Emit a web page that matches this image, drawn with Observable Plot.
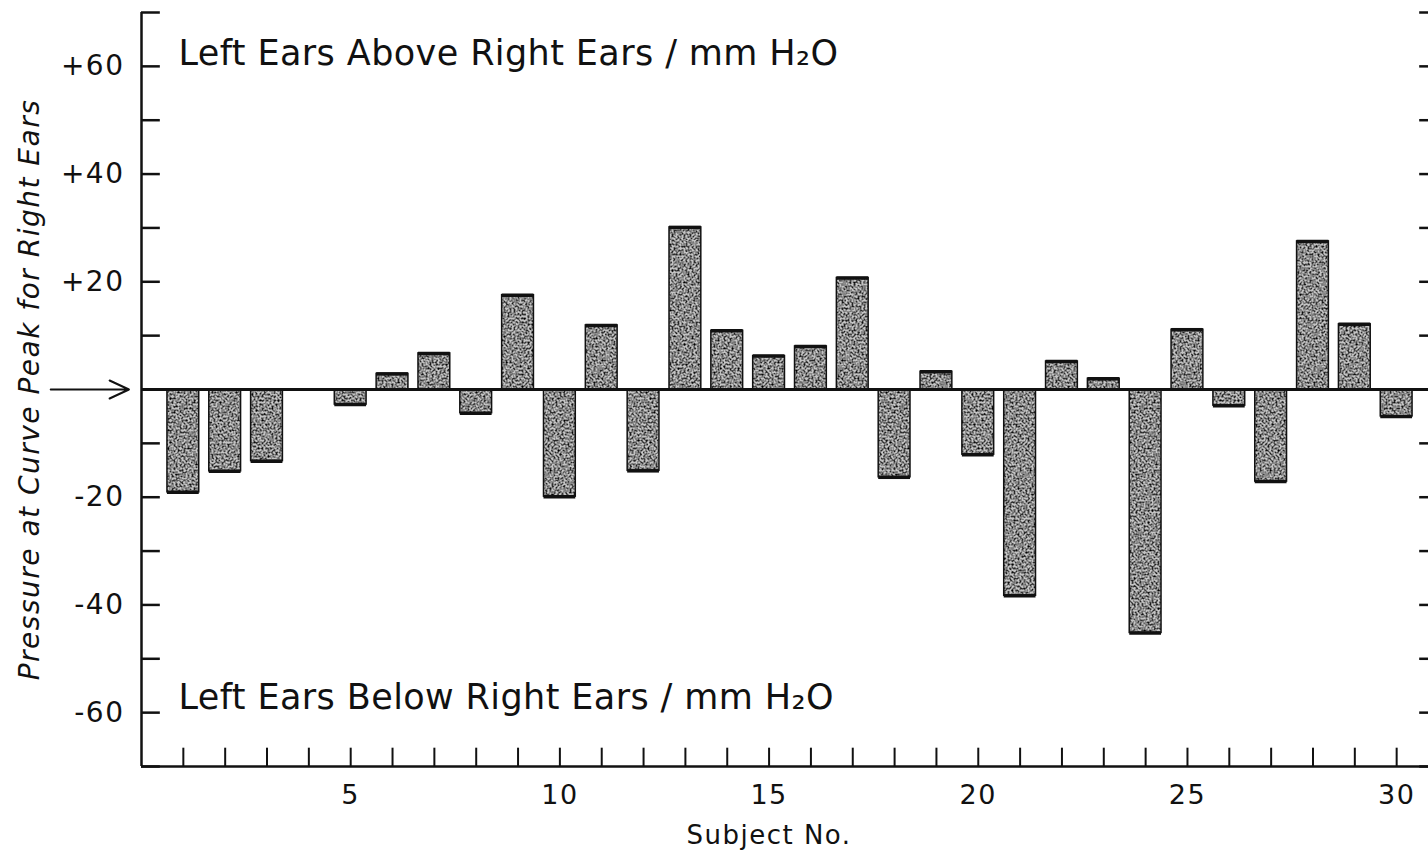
<!DOCTYPE html>
<html><head><meta charset="utf-8">
<script src="https://cdn.jsdelivr.net/npm/d3@7"></script>
<script src="https://cdn.jsdelivr.net/npm/@observablehq/plot@0.6"></script>
<style>
body{margin:0;background:#fff}
#chart svg text{letter-spacing:1.5px}
#chart svg text.note{letter-spacing:0.4px}
</style>
</head><body><div id="chart"></div>
<script>
// ---- data ----
const subjects = [1,2,3,4,5,6,7,8,9,10,11,12,13,14,15,16,17,18,19,20,21,22,23,24,25,26,27,28,29,30];
const pressureDiff = [-19.1,-15.2,-13.3,0,-2.8,2.9,6.7,-4.4,17.5,-19.9,11.9,-15.1,30.1,10.9,6.2,8.0,20.7,-16.3,3.3,-12.1,-38.3,5.2,2.0,-45.2,11.1,-3.0,-17.1,27.5,12.1,-5.0];
const yLabelTicks = [-60,-40,-20,20,40,60];
const yTickMarks = [-70,-60,-50,-40,-30,-20,-10,0,10,20,30,40,50,60,70];
const xLabelTicks = [5,10,15,20,25,30];
const topNote = "Left Ears Above Right Ears / mm H₂O";
const bottomNote = "Left Ears Below Right Ears / mm H₂O";
const yTitle = "Pressure at Curve Peak for Right Ears";
const xTitle = "Subject No.";
const zeroArrow = [{from: -2.17, to: -0.3, value: 0}];

const bars = subjects.map((s, i) => ({subject: s, value: pressureDiff[i]})).filter(d => d.value !== 0);
const halfBar = 0.38;

const font = "'DejaVu Sans', sans-serif";

const svg = Plot.plot({
  width: 1428,
  height: 859,
  marginLeft: 141,
  marginRight: -10,
  marginTop: 12,
  marginBottom: 93,
  style: {fontFamily: font, fontSize: "26px", color: "#111", background: "#fff"},
  x: {domain: [0, 31], axis: null},
  y: {domain: [-70, 70], axis: null},
  marks: [
    Plot.rect(bars, {x1: d => d.subject - halfBar, x2: d => d.subject + halfBar, y1: 0, y2: "value",
      fill: "url(#stipple)", stroke: "#111", strokeWidth: 1.5}),
    Plot.ruleY(bars, {y: "value", x1: d => d.subject - halfBar, x2: d => d.subject + halfBar, stroke: "#111", strokeWidth: 3.5}),
    Plot.ruleY([0], {x1: 0, x2: 31, stroke: "#111", strokeWidth: 3}),
    Plot.ruleX([0], {y1: -70, y2: 70, stroke: "#111", strokeWidth: 2.5}),
    Plot.ruleY([-70], {x1: 0, x2: 31, stroke: "#111", strokeWidth: 2.5}),
    Plot.ruleY(yTickMarks, {x1: 0, x2: 0.45, stroke: "#111", strokeWidth: 2.5}),
    Plot.ruleY(yTickMarks, {x1: 30.55, x2: 31, stroke: "#111", strokeWidth: 2.5}),
    Plot.ruleX(subjects, {y1: -70, y2: -66.6, stroke: "#111", strokeWidth: 2}),
    Plot.arrow(zeroArrow, {x1: "from", x2: "to", y1: "value", y2: "value", stroke: "#111", strokeWidth: 2, headLength: 16, headAngle: 50}),
    Plot.axisY(yLabelTicks, {tickSize: 0, tickPadding: 17, fontSize: 28,
      tickFormat: d => (d > 0 ? "+" : "-") + Math.abs(d), label: null}),
    Plot.axisX(xLabelTicks, {tickSize: 0, tickPadding: 18, fontSize: 27, label: null}),
    Plot.text([topNote], {frameAnchor: "top-left", dx: 37, dy: 41, textAnchor: "start", lineAnchor: "middle", fontSize: 35, fill: "#111", className: "note"}),
    Plot.text([bottomNote], {frameAnchor: "bottom-left", dx: 37, dy: -69, textAnchor: "start", lineAnchor: "middle", fontSize: 35, fill: "#111", className: "note"}),
    Plot.text([yTitle], {frameAnchor: "left", dx: -111, rotate: -90, textAnchor: "middle", lineAnchor: "middle", fontSize: 28, fontStyle: "italic", fill: "#111"}),
    Plot.text([xTitle], {frameAnchor: "bottom", dx: -21, dy: 69, textAnchor: "middle", lineAnchor: "middle", fontSize: 26, fill: "#111"})
  ]
});

const ns = "http://www.w3.org/2000/svg";
const defs = document.createElementNS(ns, "defs");
defs.innerHTML = `
<filter id="noise" filterUnits="userSpaceOnUse" x="0" y="0" width="240" height="240">
  <feTurbulence type="fractalNoise" baseFrequency="0.5" numOctaves="2" seed="7" result="t"/>
  <feColorMatrix in="t" type="matrix" values="0 0 0 0 0  0 0 0 0 0  0 0 0 0 0  2.4 0 0 0 -0.9"/>
</filter>
<pattern id="stipple" patternUnits="userSpaceOnUse" width="240" height="240">
  <rect width="240" height="240" fill="#c4c4c4"/>
  <rect width="240" height="240" fill="#000" filter="url(#noise)"/>
</pattern>`;
svg.insertBefore(defs, svg.firstChild);
// mark the note texts (className may apply to the group)
svg.querySelectorAll(".note text, text.note").forEach(t => t.classList.add("note"));
document.getElementById("chart").appendChild(svg);
</script>
</body></html>
